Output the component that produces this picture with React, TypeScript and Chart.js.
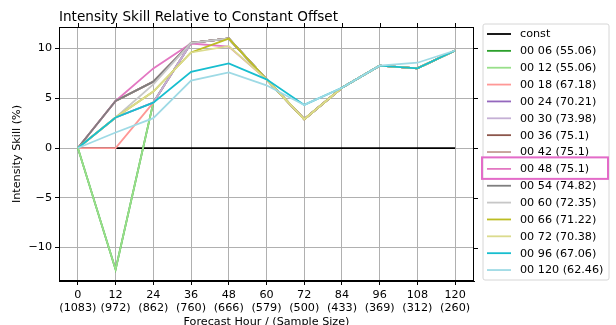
import React, { useEffect, useRef } from 'react';
import { Chart, registerables } from 'chart.js';

Chart.register(...registerables);

const FONT = '"DejaVu Sans", sans-serif';

// Forecast hours and the number of cases verified at each one
const hours = [0, 12, 24, 36, 48, 60, 72, 84, 96, 108, 120];
const sampleSizes = [1083, 972, 862, 760, 666, 579, 500, 433, 369, 312, 260];
const yTicks = [-10, -5, 0, 5, 10];

// Skill (%) of each configuration relative to the constant offset
const skillConst = [0, 0, 0, 0, 0, 0, 0, 0, 0, 0, 0];
const skill06 = [0, -12.2, 4.56, 10.56, 11.0, 6.9, 2.9, 6.06, 8.27, 8.0, 9.8];
const skill12 = [0, -12.2, 4.56, 10.56, 11.0, 6.9, 2.9, 6.06, 8.27, 8.0, 9.8];
const skill18 = [0, 0, 4.56, 10.56, 11.0, 6.9, 2.9, 6.06, 8.27, 8.0, 9.8];
const skill24 = [0, 3.07, 4.56, 10.56, 11.0, 6.9, 2.9, 6.06, 8.27, 8.0, 9.8];
const skill30 = [0, 3.07, 4.56, 10.56, 11.0, 6.9, 2.9, 6.06, 8.27, 8.0, 9.8];
const skill36 = [0, 4.73, 6.67, 10.56, 11.0, 6.9, 2.9, 6.06, 8.27, 8.0, 9.8];
const skill42 = [0, 4.73, 6.67, 10.56, 11.0, 6.9, 2.9, 6.06, 8.27, 8.0, 9.8];
const skill48 = [0, 4.73, 8.0, 10.5, 10.2, 6.9, 2.9, 6.06, 8.27, 8.0, 9.8];
const skill54 = [0, 4.73, 6.67, 10.56, 11.0, 6.9, 2.9, 6.06, 8.27, 8.0, 9.8];
const skill60 = [0, 3.07, 6.4, 10.56, 11.0, 6.9, 2.9, 6.06, 8.27, 8.0, 9.8];
const skill66 = [0, 3.07, 5.67, 9.6, 11.0, 6.9, 2.9, 6.06, 8.27, 8.0, 9.8];
const skill72 = [0, 3.07, 5.67, 9.6, 10.23, 6.9, 2.9, 6.06, 8.27, 8.0, 9.8];
const skill96 = [0, 3.07, 4.56, 7.66, 8.5, 6.9, 4.33, 6.06, 8.27, 8.0, 9.8];
const skill120 = [0, 1.56, 3.0, 6.77, 7.6, 6.3, 4.33, 6.06, 8.27, 8.57, 9.8];

const seriesLabels = [
  'const', '00 06 (55.06)', '00 12 (55.06)', '00 18 (67.18)', '00 24 (70.21)',
  '00 30 (73.98)', '00 36 (75.1)', '00 42 (75.1)', '00 48 (75.1)', '00 54 (74.82)',
  '00 60 (72.35)', '00 66 (71.22)', '00 72 (70.38)', '00 96 (67.06)', '00 120 (62.46)',
];
const seriesValues = [
  skillConst, skill06, skill12, skill18, skill24, skill30, skill36, skill42,
  skill48, skill54, skill60, skill66, skill72, skill96, skill120,
];
const seriesColors = [
  '#000000', '#2ca02c', '#98df8a', '#ff9896', '#9467bd', '#c5b0d5', '#8c564b',
  '#c49c94', '#e377c2', '#7f7f7f', '#c7c7c7', '#bcbd22', '#dbdb8d', '#17becf', '#9edae5',
];
const highlightedLabel = '00 48 (75.1)';

const decorPlugin = {
  id: 'decor',
  afterDraw(chart: any) {
    const ctx: CanvasRenderingContext2D = chart.ctx;
    const { left, right, top, bottom } = chart.chartArea;
    const xs = chart.scales.x;
    const ys = chart.scales.y;
    ctx.save();

    // full frame plus mirrored ticks on top and right
    ctx.strokeStyle = '#000';
    ctx.lineWidth = 1;
    ctx.strokeRect(Math.round(left) + 0.5, Math.round(top) + 0.5, Math.round(right - left) - 1, Math.round(bottom - top) - 1);
    ctx.beginPath();
    hours.forEach((h) => {
      const px = Math.round(xs.getPixelForValue(h)) + 0.5;
      ctx.moveTo(px, Math.round(top));
      ctx.lineTo(px, Math.round(top) - 4);
    });
    yTicks.forEach((v) => {
      const py = Math.round(ys.getPixelForValue(v)) + 0.5;
      ctx.moveTo(Math.round(right), py);
      ctx.lineTo(Math.round(right) + 4, py);
    });
    ctx.stroke();

    // titles
    ctx.fillStyle = '#000';
    ctx.font = `13.6px ${FONT}`;
    ctx.textAlign = 'left';
    ctx.textBaseline = 'alphabetic';
    ctx.fillText('Intensity Skill Relative to Constant Offset', left, 20.7);

    ctx.font = `11.2px ${FONT}`;
    ctx.textAlign = 'center';
    ctx.fillText('Forecast Hour / (Sample Size)', (left + right) / 2, 324.8);

    ctx.save();
    ctx.translate(19.5, (top + bottom) / 2);
    ctx.rotate(-Math.PI / 2);
    ctx.fillText('Intensity Skill (%)', 0, 0);
    ctx.restore();

    // legend
    const lx = 483, ly = 24, lw = 126, lh = 256, r = 2;
    ctx.beginPath();
    ctx.moveTo(lx + r, ly);
    ctx.arcTo(lx + lw, ly, lx + lw, ly + lh, r);
    ctx.arcTo(lx + lw, ly + lh, lx, ly + lh, r);
    ctx.arcTo(lx, ly + lh, lx, ly, r);
    ctx.arcTo(lx, ly, lx + lw, ly, r);
    ctx.closePath();
    ctx.fillStyle = 'rgba(255,255,255,0.8)';
    ctx.fill();
    ctx.strokeStyle = '#d6d6d6';
    ctx.lineWidth = 1;
    ctx.stroke();

    ctx.font = `11.2px ${FONT}`;
    ctx.textAlign = 'left';
    ctx.textBaseline = 'middle';
    seriesLabels.forEach((label, i) => {
      const y = 34 + i * 16.86;
      ctx.strokeStyle = seriesColors[i];
      ctx.lineWidth = 1.8;
      ctx.beginPath();
      ctx.moveTo(487, y);
      ctx.lineTo(511, y);
      ctx.stroke();
      ctx.fillStyle = '#000';
      ctx.fillText(label, 520, y + 0.5);
      if (label === highlightedLabel) {
        ctx.strokeStyle = '#e36bc8';
        ctx.lineWidth = 2;
        ctx.strokeRect(482, y - 11.5, 126, 21.5);
      }
    });
    ctx.restore();
  },
};

export default function App() {
  const canvasRef = useRef<HTMLCanvasElement>(null);

  useEffect(() => {
    const canvas = canvasRef.current;
    if (!canvas) return;
    const chart = new Chart(canvas, {
      type: 'line',
      data: {
        datasets: seriesValues.map((vals, i) => ({
          label: seriesLabels[i],
          data: hours.map((h, j) => ({ x: h, y: vals[j] })),
          borderColor: seriesColors[i],
          backgroundColor: seriesColors[i],
          borderWidth: 1.8,
          pointRadius: 0,
          tension: 0,
          fill: false,
          order: -i,
        })),
      },
      options: {
        animation: false,
        responsive: false,
        devicePixelRatio: 1,
        layout: { padding: { left: 0, right: 142, top: 27, bottom: 0 } },
        plugins: {
          legend: { display: false },
          title: { display: false },
          tooltip: { enabled: false },
        },
        scales: {
          x: {
            type: 'linear',
            min: -6,
            max: 126,
            afterBuildTicks: (s: any) => {
              s.ticks = hours.map((v) => ({ value: v }));
            },
            afterFit: (s: any) => {
              s.height = 44;
            },
            ticks: {
              autoSkip: false,
              maxRotation: 0,
              padding: 3,
              color: '#000',
              font: { family: FONT, size: 11.2, lineHeight: 1.2 },
              callback: (v: any) => {
                const i = hours.indexOf(Number(v));
                return [String(v), `(${sampleSizes[i]})`];
              },
            },
            grid: { color: '#b0b0b0', tickColor: '#000', tickLength: 4, lineWidth: 1 },
            border: { color: '#000', width: 1 },
          },
          y: {
            type: 'linear',
            min: -13.36,
            max: 12.16,
            afterBuildTicks: (s: any) => {
              s.ticks = yTicks.map((v) => ({ value: v }));
            },
            afterFit: (s: any) => {
              s.width = 59;
            },
            ticks: {
              padding: 3,
              color: '#000',
              font: { family: FONT, size: 11.2 },
              callback: (v: any) => String(v).replace('-', '\u2212'),
            },
            grid: { color: '#b0b0b0', tickColor: '#000', tickLength: 4, lineWidth: 1 },
            border: { color: '#000', width: 1 },
          },
        },
      },
      plugins: [decorPlugin],
    });
    return () => chart.destroy();
  }, []);

  return (
    <div style={{ position: 'absolute', left: 0, top: 0, width: 616, height: 325, background: '#fff' }}>
      <canvas ref={canvasRef} width={616} height={325} style={{ display: 'block' }} />
    </div>
  );
}
